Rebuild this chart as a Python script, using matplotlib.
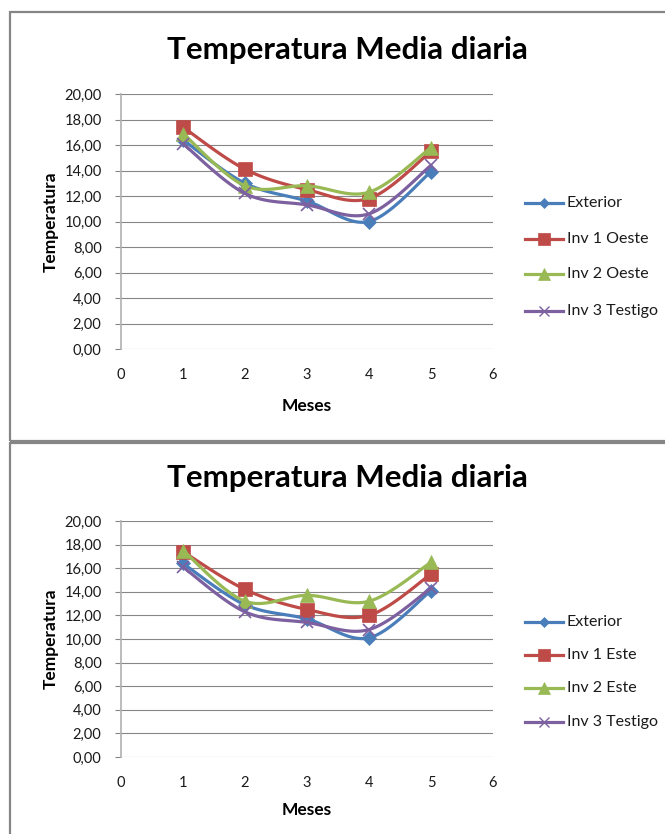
import numpy as np
import matplotlib
matplotlib.use("Agg")
import matplotlib.pyplot as plt
from matplotlib.patches import Rectangle
from matplotlib.ticker import FuncFormatter, MultipleLocator

# ---- data ----
meses = [1, 2, 3, 4, 5]
title = "Temperatura Media diaria"
x_label = "Meses"
y_label = "Temperatura"

top_labels = ["Exterior", "Inv 1 Oeste", "Inv 2 Oeste", "Inv 3 Testigo"]
top_exterior = [16.4, 13.0, 11.6, 10.0, 13.9]
top_inv1 = [17.4, 14.1, 12.5, 11.8, 15.5]
top_inv2 = [16.9, 12.8, 12.8, 12.3, 15.8]
top_inv3 = [16.1, 12.2, 11.3, 10.6, 14.4]

bot_labels = ["Exterior", "Inv 1 Este", "Inv 2 Este", "Inv 3 Testigo"]
bot_exterior = [16.4, 12.9, 11.7, 10.1, 14.1]
bot_inv1 = [17.4, 14.2, 12.5, 12.0, 15.5]
bot_inv2 = [17.5, 13.2, 13.7, 13.2, 16.5]
bot_inv3 = [16.1, 12.3, 11.4, 10.8, 14.3]

colors = ["#4A7EBB", "#BE4B48", "#98B954", "#7D60A0"]
markers = ["D", "s", "^", "x"]
msizes = [7, 10, 10, 9]

font = "Lato"


def smooth(x, y, n=30):
    x = np.asarray(x, float)
    y = np.asarray(y, float)
    px = np.concatenate([[x[0]], x, [x[-1]]])
    py = np.concatenate([[y[0]], y, [y[-1]]])
    xs, ys = [], []
    t = np.linspace(0, 1, n)
    for i in range(1, len(px) - 2):
        p0x, p1x, p2x, p3x = px[i - 1], px[i], px[i + 1], px[i + 2]
        p0y, p1y, p2y, p3y = py[i - 1], py[i], py[i + 1], py[i + 2]
        c1x = p1x + (p2x - p0x) / 6
        c1y = p1y + (p2y - p0y) / 6
        c2x = p2x - (p3x - p1x) / 6
        c2y = p2y - (p3y - p1y) / 6
        bx = (1 - t) ** 3 * p1x + 3 * (1 - t) ** 2 * t * c1x + 3 * (1 - t) * t ** 2 * c2x + t ** 3 * p2x
        by = (1 - t) ** 3 * p1y + 3 * (1 - t) ** 2 * t * c1y + 3 * (1 - t) * t ** 2 * c2y + t ** 3 * p2y
        xs.extend(bx)
        ys.extend(by)
    return np.array(xs), np.array(ys)


W, H = 665, 834
fig = plt.figure(figsize=(W / 100, H / 100), dpi=100)

# panel borders
for (y0, y1) in [(12, 441), (443, 900)]:
    fig.patches.append(Rectangle((10 / W, 1 - y1 / H), 1.2, (y1 - y0) / H,
                                 transform=fig.transFigure, fill=False,
                                 edgecolor="#868686", linewidth=1.6))

fmt = FuncFormatter(lambda v, p: f"{v:.2f}".replace(".", ","))


def draw(ax_rect, series, labels, title_y, legend_ys, xlabelpad):
    ax = fig.add_axes(ax_rect)
    for i, (vals, lab) in enumerate(zip(series, labels)):
        sx, sy = smooth(meses, vals)
        ax.plot(sx, sy, color=colors[i], lw=2.3, solid_capstyle="round", zorder=3 + i)
        ax.plot(meses, vals, linestyle="none", marker=markers[i], ms=msizes[i],
                color=colors[i], mec=colors[i], mew=1.2 if markers[i] == "x" else 0.5,
                zorder=3 + i)
        # legend entry
        ly = 1 - legend_ys[i] / H
        fig.add_artist(plt.Line2D([525 / W, 563 / W], [ly, ly], color=colors[i], lw=2.3,
                                  transform=fig.transFigure))
        fig.add_artist(plt.Line2D([544 / W], [ly], marker=markers[i], ms=msizes[i] * 0.8,
                                  color=colors[i], mew=1.0 if markers[i] == "x" else 0.5,
                                  transform=fig.transFigure))
        fig.text(567 / W, ly, lab, fontsize=11.5, va="center", ha="left",
                 family=font, color="#1a1a1a")
    ax.set_xlim(0, 6)
    ax.set_ylim(0, 20)
    ax.yaxis.set_major_locator(MultipleLocator(2))
    ax.xaxis.set_major_locator(MultipleLocator(1))
    ax.yaxis.set_major_formatter(fmt)
    ax.grid(axis="y", color="#868686", lw=0.8)
    for s in ["top", "right", "bottom"]:
        ax.spines[s].set_visible(False)
    ax.spines["left"].set_color("#b0b0b0")
    ax.spines["left"].set_linewidth(1.2)
    ax.tick_params(axis="y", length=4, color="#868686", labelsize=10.5, pad=10)
    ax.tick_params(axis="x", length=0, labelsize=10.5, pad=14)
    for lbl in ax.get_xticklabels() + ax.get_yticklabels():
        lbl.set_family(font)
        lbl.set_color("#1a1a1a")
    ax.set_xlabel(x_label, fontsize=12.5, fontweight="bold", family=font, labelpad=xlabelpad)
    ax.set_ylabel(y_label, fontsize=12.5, fontweight="bold", family=font, labelpad=4)
    fig.text(347 / W, 1 - title_y / H, title, fontsize=22.5, fontweight="bold",
             family=font, ha="center", va="center")
    return ax


draw([121 / W, 1 - 349 / H, 372 / W, 255 / H],
     [top_exterior, top_inv1, top_inv2, top_inv3], top_labels, 50, [203, 239, 274, 311], 11)
draw([121 / W, 1 - 757 / H, 372 / W, 236 / H],
     [bot_exterior, bot_inv1, bot_inv2, bot_inv3], bot_labels, 478, [622, 655, 688, 722], 8)

fig.savefig("out.png", dpi=100)
